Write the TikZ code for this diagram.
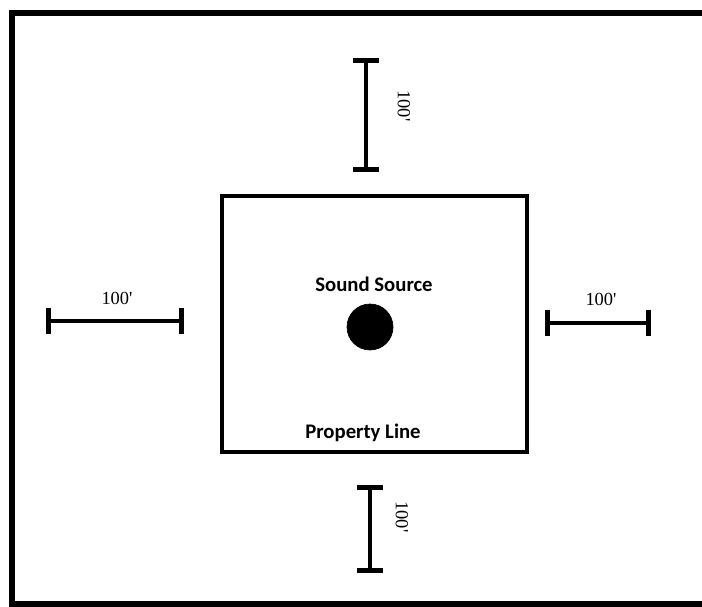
\documentclass[tikz,border=0pt]{standalone}
\usepackage{fontspec}
\setmainfont{Liberation Serif}
\newfontfamily\labelfont{Carlito}
\usetikzlibrary{arrows.meta}

\begin{document}
\begin{tikzpicture}[x=0.02cm,y=-0.02cm,
  frame/.style={line width=3pt},
  wall/.style={line width=2.8pt},
  dim/.style={line width=2.8pt,arrows={Bar[width=15pt]-Bar[width=15pt]}},
  dimlbl/.style={font=\fontsize{10.5}{12}\selectfont,inner sep=1pt},
  tag/.style={font=\labelfont\bfseries\fontsize{11.8}{13}\selectfont,inner sep=1pt},
  dot/.style={draw,circle,fill=black,minimum size=0.92cm,inner sep=0pt}]
\useasboundingbox (0,0) rectangle (702,607);
% outer frame (no right side)
\draw[frame] (702,13) -- (12,13) -- (12,604) -- (702,604);
% property
\draw[wall] (222,196) rectangle (527,452);
\node[dot] (src) at (370,327) {};
\node[tag] (srclbl) at (374,284) {Sound Source};
\node[tag] (proplbl) at (363,433) {Property Line};
% dimension bars
\coordinate (n1) at (366,58);
\coordinate (n2) at (366,172);
\coordinate (s1) at (370,485);
\coordinate (s2) at (370,573);
\coordinate (w1) at (46,321);
\coordinate (w2) at (184,321);
\coordinate (e1) at (545,323);
\coordinate (e2) at (651,323);
\draw[dim] (n1) -- (n2);
\draw[dim] (s1) -- (s2);
\draw[dim] (w1) -- (w2);
\draw[dim] (e1) -- (e2);
\node[dimlbl,rotate=-90] (nlbl) at (404,106) {100\textquotesingle};
\node[dimlbl,rotate=-90] (slbl) at (402,517) {100\textquotesingle};
\node[dimlbl] (wlbl) at (117,298) {100\textquotesingle};
\node[dimlbl] (elbl) at (601,299) {100\textquotesingle};
\end{tikzpicture}
\end{document}
